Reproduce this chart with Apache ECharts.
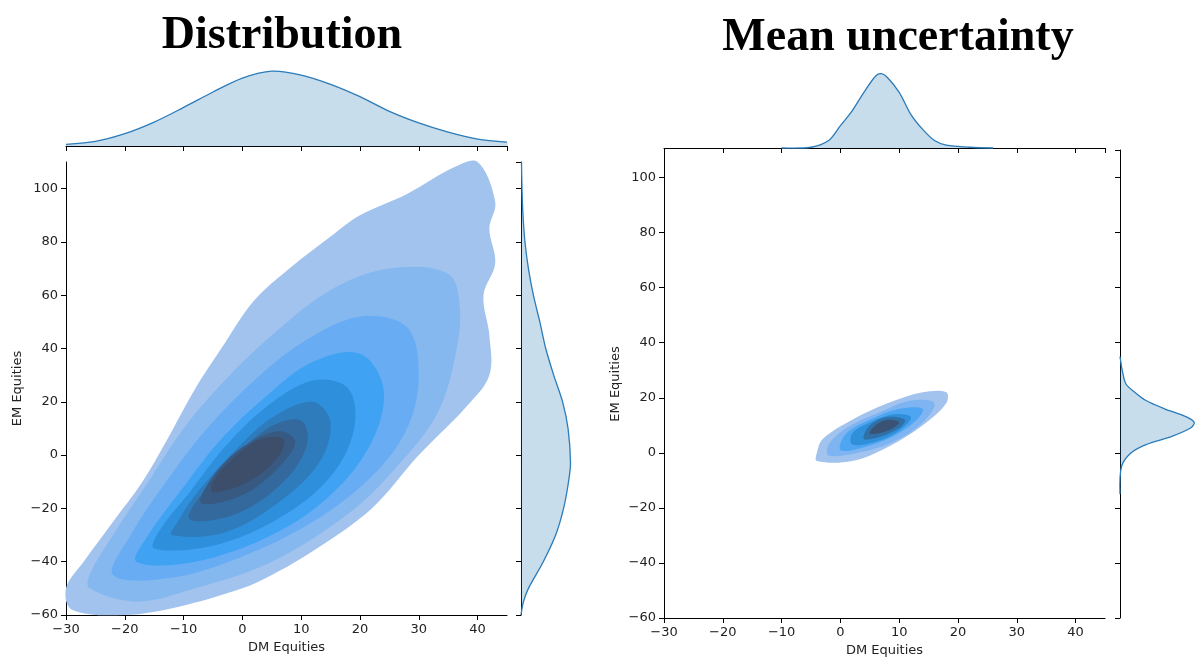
<!DOCTYPE html>
<html>
<head>
<meta charset="utf-8">
<script src="https://cdn.jsdelivr.net/npm/echarts@6/dist/echarts.min.js"></script>
<style>
  html, body { margin: 0; padding: 0; background: #fff; }
  #main { width: 1200px; height: 666px; }
</style>
</head>
<body>
<div id="main"></div>
<script>
// contour levels (outer -> inner), left panel "Distribution"
var distLevels = [
  [[-29,-58],[-20,-60],[-11,-57],[0,-50],[5,-45],[12,-36],[22,-20],[30,0],[38,18],[42,30],[42,45],[41,60],[43,72],[42,85],[43,95],[40,110],[36,108],[28,98],[20,90],[15,82],[8,70],[2,58],[-3,42],[-8,25],[-13,5],[-17,-10],[-22,-25],[-27,-40],[-30,-50]],
  [[-26,-50],[-18,-55],[-8,-50],[5,-40],[18,-22],[26,-5],[33,15],[36,35],[37,55],[35,68],[25,70],[15,62],[5,45],[-3,28],[-10,10],[-16,-10],[-22,-30],[-26,-45]],
  [[-22,-45],[-12,-46],[0,-38],[12,-25],[22,-8],[28,10],[30,30],[28,48],[20,52],[10,42],[2,28],[-6,10],[-13,-10],[-19,-30]],
  [[-18,-40],[-8,-40],[5,-30],[15,-15],[22,5],[24,25],[20,38],[12,35],[4,22],[-4,5],[-10,-12],[-16,-30]],
  [[-15,-35],[-5,-34],[6,-24],[15,-8],[19,10],[18,25],[12,28],[4,18],[-3,3],[-9,-14],[-14,-28]],
  [[-12,-30],[-3,-29],[6,-18],[13,-3],[15,12],[12,20],[5,14],[-2,0],[-8,-15],[-11,-25]],
  [[-9,-24],[-1,-22],[7,-10],[11,4],[10,13],[5,11],[-1,0],[-6,-12]],
  [[-7,-18],[0,-15],[6,-5],[9,5],[6,9],[0,3],[-5,-8]],
  [[-5,-14],[1,-10],[6,-1],[7,6],[3,6],[-2,-2],[-5,-10]]
];
// right panel "Mean uncertainty"
var meanLevels = [
  [[-4,-3],[2,-3],[8,2],[14,10],[18,18],[18,22],[14,22],[8,18],[2,12],[-3,5],[-4,0]],
  [[-2,-1],[3,0],[9,4],[14,11],[16,18],[12,19],[7,15],[1,9],[-2,3]],
  [[0,1],[4,2],[9,6],[13,12],[14,16],[10,16],[5,12],[1,7]],
  [[2,3],[6,4],[10,8],[12,13],[9,14],[5,11],[2,7]],
  [[4,5],[7,6],[10,9],[11,12],[8,13],[5,10]],
  [[5,7],[8,8],[10,11],[8,12],[6,10]]
];
var distColors = ['#a2c3ee','#86b8f0','#68adf3','#3fa2f2','#2e8fdc','#2f7cbd','#33699d','#385a82','#3c4e6a'];
var meanColors = ['#a2c3ee','#7db4f1','#4ea6f2','#2f8fda','#3170a6','#3a5273'];

// marginal densities
var distTopX = [-30,-25,-20,-15,-10,-5,0,5,10,15,20,25,30,35,40,45];
var distTopD = [0.02,0.06,0.16,0.31,0.5,0.7,0.88,0.97,0.92,0.8,0.64,0.45,0.3,0.18,0.09,0.05];
var distRightY = [-60,-55,-50,-40,-30,-20,-10,-3,10,20,30,40,50,60,70,80,90,100,110];
var distRightD = [0,0.05,0.15,0.45,0.7,0.86,0.96,1.0,0.95,0.84,0.66,0.5,0.38,0.25,0.15,0.08,0.04,0.02,0.01];
var meanTopX = [-10,-5,-2,0,2,4,6,7,8,10,12,14,16,18,22,26];
var meanTopD = [0,0.01,0.1,0.3,0.5,0.75,0.97,1.0,0.95,0.75,0.45,0.25,0.1,0.04,0.01,0];
var meanRightY = [-15,-5,0,3,6,9,11,13,16,19,22,25,30,35];
var meanRightD = [0,0.02,0.15,0.35,0.7,0.95,1.0,0.9,0.6,0.35,0.2,0.08,0.03,0];

var chart = echarts.init(document.getElementById('main'));
var font = 'DejaVu Sans';

function contourSeries(levels, colors, gi) {
  return {
    type: 'custom', xAxisIndex: gi, yAxisIndex: gi,
    data: levels.map(function (l, i) { return [i]; }),
    renderItem: function (params, api) {
      var pts = levels[params.dataIndex].map(function (p) { return api.coord(p); });
      return { type: 'polygon', shape: { points: pts, smooth: 0.35 },
               style: { fill: colors[params.dataIndex], stroke: null } };
    },
    silent: true
  };
}
function marginalSeries(pos, vals, gi, vertical) {
  return {
    type: 'custom', xAxisIndex: gi, yAxisIndex: gi,
    data: [[0]],
    renderItem: function (params, api) {
      var pts = pos.map(function (p, i) {
        return vertical ? api.coord([vals[i], p]) : api.coord([p, vals[i]]);
      });
      var first = pos[0], last = pos[pos.length - 1];
      var base = vertical ? [api.coord([0, last]), api.coord([0, first])]
                          : [api.coord([last, 0]), api.coord([first, 0])];
      return { type: 'group', children: [
        { type: 'polygon', shape: { points: pts.concat(base), smooth: 0.3 },
          style: { fill: 'rgba(31,119,180,0.25)', stroke: null } },
        { type: 'polyline', shape: { points: pts, smooth: 0.3 },
          style: { fill: null, stroke: '#2b7bb9', lineWidth: 1.3 } }
      ]};
    },
    silent: true
  };
}

var axisLine = { show: true, onZero: false, lineStyle: { color: '#000', width: 1 } };
var axisTick = { show: true, length: 5, lineStyle: { color: '#000' } };
var lbl = { color: '#222', fontSize: 13, fontFamily: font };
function fmt(v) { return v < 0 ? '\u2212' + (-v) : v; }
function mainX(gi) {
  return { gridIndex: gi, type: 'value', min: -30, max: 45, interval: 10,
    axisLine: axisLine, axisTick: axisTick, splitLine: { show: false },
    axisLabel: Object.assign({ showMaxLabel: false, formatter: fmt }, lbl),
    name: 'DM Equities', nameLocation: 'middle', nameGap: 26, nameTextStyle: lbl };
}
function mainY(gi) {
  return { gridIndex: gi, type: 'value', min: -60, max: 110, interval: 20,
    axisLine: axisLine, axisTick: axisTick, splitLine: { show: false },
    axisLabel: Object.assign({ showMaxLabel: false, formatter: fmt }, lbl),
    name: 'EM Equities', nameLocation: 'middle', nameGap: 42, nameTextStyle: lbl };
}
function margX(gi) {
  return { gridIndex: gi, type: 'value', min: -30, max: 45, interval: 10,
    axisLine: axisLine, axisTick: axisTick, axisLabel: { show: false }, splitLine: { show: false } };
}
function margDens(gi) {
  return { gridIndex: gi, type: 'value', min: 0, max: 1.05,
    axisLine: { show: false }, axisTick: { show: false }, axisLabel: { show: false }, splitLine: { show: false } };
}
function margY(gi) {
  return { gridIndex: gi, type: 'value', min: -60, max: 110, interval: 20,
    axisLine: axisLine, axisTick: axisTick, axisLabel: { show: false }, splitLine: { show: false } };
}

chart.setOption({
  animation: false,
  backgroundColor: '#fff',
  title: [
    { text: 'Distribution', left: 277, top: 8, textAlign: 'center',
      textStyle: { fontFamily: 'Liberation Serif', fontSize: 46, fontWeight: 'bold', color: '#000' } },
    { text: 'Mean uncertainty', left: 893, top: 10, textAlign: 'center',
      textStyle: { fontFamily: 'Liberation Serif', fontSize: 46, fontWeight: 'bold', color: '#000' } }
  ],
  grid: [
    { left: 66, top: 162, width: 441, height: 453 },
    { left: 66, top: 65, width: 441, height: 81 },
    { left: 521, top: 162, width: 52, height: 453 },
    { left: 664, top: 150, width: 441, height: 468 },
    { left: 664, top: 70, width: 441, height: 78 },
    { left: 1120, top: 150, width: 78, height: 468 }
  ],
  xAxis: [mainX(0), margX(1), margDens(2), mainX(3), margX(4), margDens(5)],
  yAxis: [mainY(0), margDens(1), margY(2), mainY(3), margDens(4), margY(5)],
  series: [
    contourSeries(distLevels, distColors, 0),
    marginalSeries(distTopX, distTopD, 1, false),
    marginalSeries(distRightY, distRightD, 2, true),
    contourSeries(meanLevels, meanColors, 3),
    marginalSeries(meanTopX, meanTopD, 4, false),
    marginalSeries(meanRightY, meanRightD, 5, true)
  ]
});
</script>
</body>
</html>
